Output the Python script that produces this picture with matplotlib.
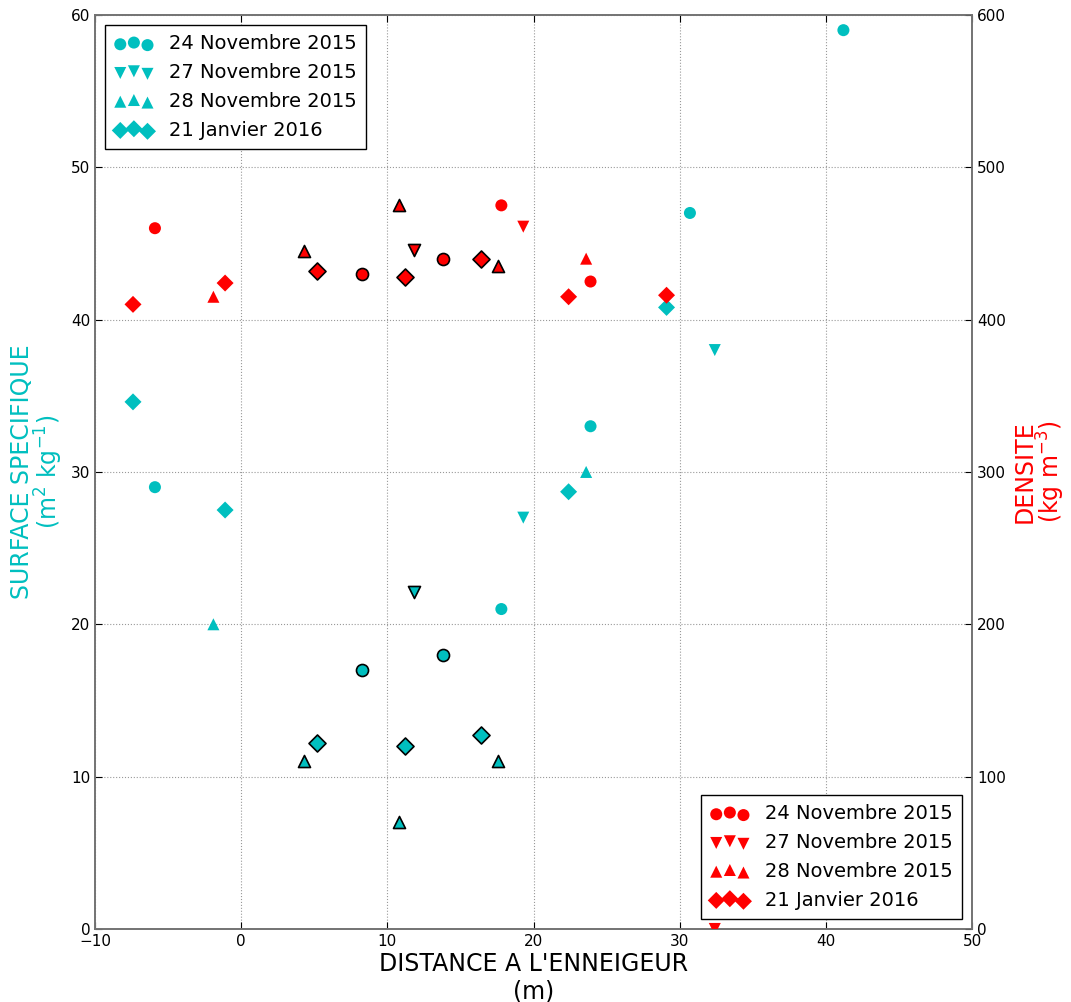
import numpy as np
import matplotlib
matplotlib.use("Agg")
import matplotlib.pyplot as plt

plt.rcParams['mathtext.default'] = 'regular'

cyan = (0.0, 0.75, 0.75)
red = (1.0, 0.0, 0.0)

dates = ["24 Novembre 2015", "27 Novembre 2015", "28 Novembre 2015", "21 Janvier 2016"]
markers = ["o", "v", "^", "D"]

# 24 Novembre 2015
dist_24nov = [-5.9, 8.3, 13.8, 17.8, 23.9, 30.7, 41.2]
ssa_24nov = [29.0, 17.0, 18.0, 21.0, 33.0, 47.0, 59.0]
dens_24nov = [460, 430, 440, 475, 425, np.nan, np.nan]
edge_24nov = [0, 1, 1, 0, 0, 0, 0]

# 27 Novembre 2015
dist_27nov = [11.8, 19.3, 32.4]
ssa_27nov = [22.1, 27.0, 38.0]
dens_27nov = [446, 461, 0]
edge_27nov = [1, 0, 0]

# 28 Novembre 2015
dist_28nov = [-1.9, 4.3, 10.8, 17.6, 23.6]
ssa_28nov = [20.0, 11.0, 7.0, 11.0, 30.0]
dens_28nov = [415, 445, 475, 435, 440]
edge_28nov = [0, 1, 1, 1, 0]

# 21 Janvier 2016
dist_21jan = [-7.4, -1.1, 5.2, 11.2, 16.4, 22.4, 29.1]
ssa_21jan = [34.6, 27.5, 12.2, 12.0, 12.7, 28.7, 40.8]
dens_21jan = [410, 424, 432, 428, 440, 415, 416]
edge_21jan = [0, 0, 1, 1, 1, 0, 0]

dists = [dist_24nov, dist_27nov, dist_28nov, dist_21jan]
ssas = [ssa_24nov, ssa_27nov, ssa_28nov, ssa_21jan]
denss = [dens_24nov, dens_27nov, dens_28nov, dens_21jan]
edges = [edge_24nov, edge_27nov, edge_28nov, edge_21jan]

fig = plt.figure(figsize=(10.71, 10.02), dpi=100)
ax1 = fig.add_axes([0.0887, 0.0729, 0.8189, 0.9122])
ax2 = ax1.twinx()

ms = 75
h1 = []
h2 = []
for i in range(4):
    x = np.array(dists[i])
    e = np.array(edges[i]) == 1
    s1 = np.array(ssas[i])
    d1 = np.array(denss[i], dtype=float)
    h = ax1.scatter(x[~e], s1[~e], s=ms, marker=markers[i], c=[cyan], edgecolors='none', label=dates[i], zorder=3)
    h1.append(h)
    if e.any():
        ax1.scatter(x[e], s1[e], s=ms, marker=markers[i], c=[cyan], edgecolors='k', linewidths=1.2, zorder=3)
    h = ax2.scatter(x[~e], d1[~e], s=ms, marker=markers[i], c=[red], edgecolors='none', label=dates[i], zorder=3)
    h2.append(h)
    if e.any():
        ax2.scatter(x[e], d1[e], s=ms, marker=markers[i], c=[red], edgecolors='k', linewidths=1.2, zorder=3)

ax1.set_xlim(-10, 50)
ax1.set_ylim(0, 60)
ax2.set_ylim(0, 600)
ax1.set_xticks(np.arange(-10, 51, 10))
ax1.set_yticks(np.arange(0, 61, 10))
ax2.set_yticks(np.arange(0, 601, 100))

ax1.grid(True, color='0.6', linestyle=':', linewidth=0.8)
ax1.set_axisbelow(True)

ax1.tick_params(direction='in', top=True, labelsize=11, length=5)
ax2.tick_params(direction='in', labelsize=11, length=5)
for ax in (ax1, ax2):
    for sp in ax.spines.values():
        sp.set_color('0.45')
        sp.set_linewidth(1.2)

ax1.set_xlabel("DISTANCE A L'ENNEIGEUR\n(m)", fontsize=17, labelpad=2)
ax1.set_ylabel("SURFACE SPECIFIQUE\n(m$^2$ kg$^{-1}$)", fontsize=17, color=cyan, linespacing=0.95)
ax2.set_ylabel("DENSITE\n(kg m$^{-3}$)", fontsize=17, color=red, linespacing=0.95)
ax1.yaxis.set_label_coords(-0.034, 0.5)
ax2.yaxis.set_label_coords(1.046, 0.5)

leg1 = ax1.legend(handles=h1, loc='upper left', fontsize=14, scatterpoints=3,
                  fancybox=False, framealpha=1, edgecolor='k', borderpad=0.5)
leg1.get_frame().set_linewidth(1.0)
leg2 = ax2.legend(handles=h2, loc='lower right', fontsize=14, scatterpoints=3,
                  fancybox=False, framealpha=1, edgecolor='k', borderpad=0.5)
leg2.get_frame().set_linewidth(1.0)

fig.savefig("out.png", dpi=100)
